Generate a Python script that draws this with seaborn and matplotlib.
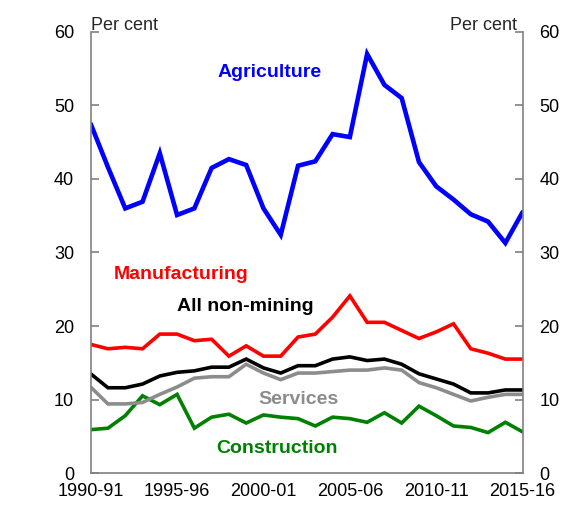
import matplotlib
matplotlib.use("Agg")
import matplotlib.pyplot as plt
import seaborn as sns
import pandas as pd
import numpy as np

years = ["1990-91", "1991-92", "1992-93", "1993-94", "1994-95", "1995-96", "1996-97",
         "1997-98", "1998-99", "1999-00", "2000-01", "2001-02", "2002-03", "2003-04",
         "2004-05", "2005-06", "2006-07", "2007-08", "2008-09", "2009-10", "2010-11",
         "2011-12", "2012-13", "2013-14", "2014-15", "2015-16"]

agriculture = [47.5, 41.6, 36.0, 36.9, 43.5, 35.1, 36.0, 41.5, 42.7, 41.9, 36.0, 32.4, 41.8,
               42.4, 46.1, 45.7, 57.0, 52.8, 51.0, 42.3, 39.0, 37.2, 35.2, 34.2, 31.3, 35.5]
manufacturing = [17.5, 16.9, 17.1, 16.9, 18.9, 18.9, 18.0, 18.2, 15.9, 17.3, 15.9, 15.9, 18.5,
                 18.9, 21.2, 24.1, 20.5, 20.5, 19.4, 18.3, 19.2, 20.3, 16.9, 16.3, 15.5, 15.5]
all_non_mining = [13.5, 11.6, 11.6, 12.1, 13.2, 13.7, 13.9, 14.4, 14.4, 15.5, 14.3, 13.6, 14.6,
                  14.6, 15.5, 15.8, 15.3, 15.5, 14.8, 13.5, 12.8, 12.1, 10.9, 10.9, 11.3, 11.3]
services = [11.7, 9.4, 9.4, 9.6, 10.7, 11.7, 12.9, 13.1, 13.1, 14.8, 13.6, 12.7, 13.6,
            13.6, 13.8, 14.0, 14.0, 14.3, 14.0, 12.3, 11.6, 10.7, 9.8, 10.3, 10.7, 10.7]
construction = [5.9, 6.1, 7.8, 10.5, 9.3, 10.7, 6.1, 7.6, 8.0, 6.8, 7.9, 7.6, 7.4,
                6.4, 7.6, 7.4, 6.9, 8.2, 6.8, 9.1, 7.8, 6.4, 6.2, 5.5, 6.9, 5.6]

series_names = ["Agriculture", "Manufacturing", "All non-mining", "Services", "Construction"]
series_values = [agriculture, manufacturing, all_non_mining, services, construction]
colors = {"Agriculture": "#0000ff", "Manufacturing": "#ff0000", "All non-mining": "#000000",
          "Services": "#8c8c8c", "Construction": "#008000"}
widths = {"Agriculture": 3.3, "Manufacturing": 2.6, "All non-mining": 2.6,
          "Services": 2.6, "Construction": 2.6}

rows = []
for name, vals in zip(series_names, series_values):
    for i, v in enumerate(vals):
        rows.append({"idx": i, "year": years[i], "value": v, "series": name})
df = pd.DataFrame(rows)

sns.set_theme(style="white")
plt.rcParams["font.family"] = ["Liberation Sans", "DejaVu Sans"]

fig = plt.figure(figsize=(5.65, 5.07), dpi=100)
ax = fig.add_axes([0.1605, 0.067, 0.925 - 0.1605, 0.937 - 0.067])

draw_order = ["Construction", "Services", "All non-mining", "Manufacturing", "Agriculture"]
for name in draw_order:
    sub = df[df["series"] == name]
    sns.lineplot(data=sub, x="idx", y="value", ax=ax, color=colors[name],
                 linewidth=widths[name], legend=False, solid_joinstyle="miter")

ax.set_xlim(0, len(years) - 1)
ax.set_ylim(0, 60)
tick_pos = list(range(0, len(years), 5))
ax.set_xticks(tick_pos)
ax.set_xticklabels([years[i] for i in tick_pos])
ax.set_yticks(range(0, 61, 10))
ax.set_xlabel("")
ax.set_ylabel("")

spine_c = "#808080"
for s in ["left", "right", "bottom"]:
    ax.spines[s].set_visible(True)
    ax.spines[s].set_color(spine_c)
    ax.spines[s].set_linewidth(1.2)
ax.spines["top"].set_visible(False)

ax.tick_params(axis="both", direction="in", length=6, width=1.2, color=spine_c,
               labelsize=13, labelcolor="black")
ax.tick_params(axis="x", pad=7.5)
ax.tick_params(axis="y", left=True, right=True, labelleft=True, labelright=True, pad=12)

ax.text(0.0, 1.0045, "Per cent", transform=ax.transAxes, ha="left", va="baseline", fontsize=13)
ax.text(0.987, 1.0045, "Per cent", transform=ax.transAxes, ha="right", va="baseline", fontsize=13)

label_pos = {"Agriculture": (10.35, 54.5), "Manufacturing": (5.25, 27.0),
             "All non-mining": (8.95, 22.6), "Services": (12.0, 10.0),
             "Construction": (10.8, 3.3)}
for name, (x, y) in label_pos.items():
    ax.text(x, y, name, color=colors[name], fontsize=14, fontweight="bold",
            ha="center", va="center")

fig.savefig("out.png", dpi=100)
